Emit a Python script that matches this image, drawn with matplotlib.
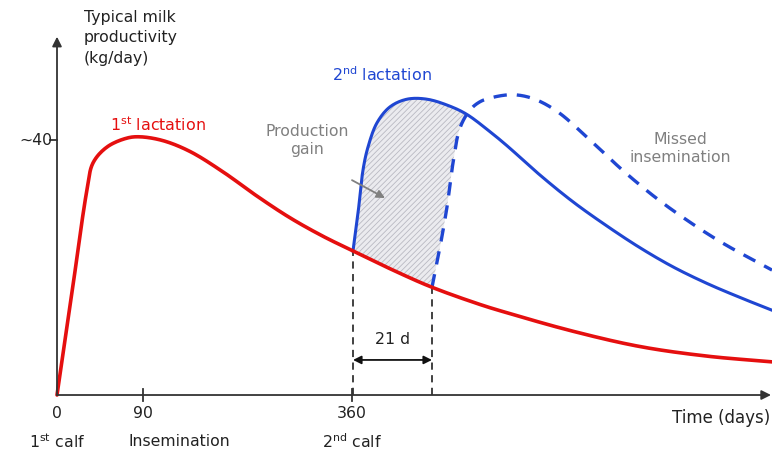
import numpy as np
import matplotlib
matplotlib.use("Agg")
import matplotlib.pyplot as plt

# ---------------- data (schematic units: x = position along time axis, y = kg/day) -------------
red_x = [0, 15, 30, 36, 50, 70, 83, 106, 133, 166, 200, 233, 266, 296, 340, 375, 423, 450, 516, 583, 650, 715]
red_y = [0, 16.1, 32.2, 36.4, 38.9, 40.3, 40.5, 39.9, 38.2, 35.0, 31.2, 27.8, 24.9, 22.6, 19.3, 16.9, 14.2, 12.9, 10.0, 7.6, 6.1, 5.2]

blue_x = [296, 301, 306, 311, 320, 333, 350, 370, 393, 410, 433, 450, 483, 516, 550, 583, 616, 650, 683, 715]
blue_y = [22.6, 28.5, 35.3, 38.9, 42.7, 45.2, 46.4, 46.4, 45.3, 44.0, 41.3, 39.1, 34.5, 30.3, 26.5, 23.1, 20.1, 17.5, 15.3, 13.3]

dash_x = [375, 383, 390, 396, 403, 413, 423, 436, 456, 476, 500, 533, 566, 600, 633, 666, 715]
dash_y = [16.9, 23.2, 29.5, 36.4, 41.9, 44.7, 46.0, 46.7, 47.1, 46.5, 44.5, 40.0, 35.2, 30.8, 27.1, 23.8, 19.6]

tick_pos = [0, 86, 295]
tick_labels = ["0", "90", "360"]
event_labels = ["1$^{\\rm st}$ calf", "Insemination", "2$^{\\rm nd}$ calf"]
y_tick_value = 40
y_tick_label = "~40"
insem_x = 296      # 2nd calf
insem_x2 = 375     # 21 d later
gap_label = "21 d"

RED = "#e50f0f"
BLUE = "#1f46d2"
GRAY = "#808080"
DARK = "#333333"
TXT = "#222222"
FS = 11.3

plt.rcParams['font.family'] = ['DejaVu Sans']
plt.rcParams['mathtext.fontset'] = 'custom'
plt.rcParams['mathtext.rm'] = 'DejaVu Sans'
plt.rcParams['hatch.linewidth'] = 0.6

fig = plt.figure(figsize=(7.72, 4.55), dpi=100)
ax = fig.add_axes([0, 0, 1, 1])
ax.set_xlim(-57, 715)
ax.set_ylim(-9.41, 61.96)
ax.axis('off')


def smooth(xs, ys, n=16, alpha=0.5):
    """Centripetal Catmull-Rom rendering of the read points, done in display space (drawing only)."""
    P = ax.transData.transform(np.column_stack([xs, ys]).astype(float))
    P = np.vstack([2 * P[0] - P[1], P, 2 * P[-1] - P[-2]])
    out = []
    for i in range(1, len(P) - 2):
        p0, p1, p2, p3 = P[i - 1], P[i], P[i + 1], P[i + 2]
        t0 = 0.0
        t1 = t0 + max(np.linalg.norm(p1 - p0), 1e-6) ** alpha
        t2 = t1 + max(np.linalg.norm(p2 - p1), 1e-6) ** alpha
        t3 = t2 + max(np.linalg.norm(p3 - p2), 1e-6) ** alpha
        t = np.linspace(t1, t2, n, endpoint=False)[:, None]
        a1 = (t1 - t) / (t1 - t0) * p0 + (t - t0) / (t1 - t0) * p1
        a2 = (t2 - t) / (t2 - t1) * p1 + (t - t1) / (t2 - t1) * p2
        a3 = (t3 - t) / (t3 - t2) * p2 + (t - t2) / (t3 - t2) * p3
        b1 = (t2 - t) / (t2 - t0) * a1 + (t - t0) / (t2 - t0) * a2
        b2 = (t3 - t) / (t3 - t1) * a2 + (t - t1) / (t3 - t1) * a3
        out.append((t2 - t) / (t2 - t1) * b1 + (t - t1) / (t2 - t1) * b2)
    out.append(P[-2][None, :])
    o = ax.transData.inverted().transform(np.vstack(out))
    return o[:, 0], o[:, 1]


rsx, rsy = smooth(red_x, red_y)
bsx, bsy = smooth(blue_x, blue_y)
dsx, dsy = smooth(dash_x, dash_y)

# hatched production gain region
m1 = bsx <= 410
m2 = dsx <= 410
m3 = (rsx >= insem_x) & (rsx <= insem_x2)
poly_x = np.concatenate([bsx[m1], dsx[m2][::-1], rsx[m3][::-1]])
poly_y = np.concatenate([bsy[m1], dsy[m2][::-1], rsy[m3][::-1]])
ax.fill(poly_x, poly_y, facecolor="#ebebef", edgecolor="#b9b9c2", hatch="//////", linewidth=0, zorder=1)

# vertical dashed guides
ax.plot([insem_x, insem_x], [0, np.interp(insem_x, rsx, rsy)], color=DARK, lw=1.3, dashes=(4, 3), zorder=2)
ax.plot([insem_x2, insem_x2], [0, np.interp(insem_x2, rsx, rsy)], color=DARK, lw=1.3, dashes=(4, 3), zorder=2)

# curves
ax.plot(rsx, rsy, color=RED, lw=2.6, solid_capstyle='round', solid_joinstyle='round', zorder=4)
ax.plot(bsx, bsy, color=BLUE, lw=2.2, solid_joinstyle='round', zorder=3)
ax.plot(dsx, dsy, color=BLUE, lw=2.4, dashes=(4, 3), zorder=3)

# axes with arrows
ax.annotate("", xy=(0, 56.2), xytext=(0, 0),
            arrowprops=dict(arrowstyle="-|>", color=DARK, lw=1.3, mutation_scale=14, shrinkA=0, shrinkB=0), zorder=5)
ax.annotate("", xy=(714, 0), xytext=(0, 0),
            arrowprops=dict(arrowstyle="-|>", color=DARK, lw=1.3, mutation_scale=14, shrinkA=0, shrinkB=0), zorder=5)
ax.plot([-7, 0], [y_tick_value, y_tick_value], color=DARK, lw=1.3)
ax.text(-21, y_tick_value, y_tick_label, ha='center', va='center', fontsize=FS, color=TXT)
for p in tick_pos[1:]:
    ax.plot([p, p], [-0.9, 0.9], color=DARK, lw=1.3)

for p, lab in zip(tick_pos, tick_labels):
    ax.text(p, -2.9, lab, ha='center', va='center', fontsize=FS, color=TXT)
ax.text(tick_pos[0], -7.3, event_labels[0], ha='center', va='center', fontsize=FS, color=TXT)
ax.text(tick_pos[1] - 15, -7.3, event_labels[1], ha='left', va='center', fontsize=FS, color=TXT)
ax.text(tick_pos[2], -7.3, event_labels[2], ha='center', va='center', fontsize=FS, color=TXT)
ax.text(713, -3.6, "Time (days)", ha='right', va='center', fontsize=12, color=TXT)

ax.text(27, 60.4, "Typical milk\nproductivity\n(kg/day)", ha='left', va='top', fontsize=FS,
        color=TXT, linespacing=1.45)

# 21 d arrow
ax.annotate("", xy=(insem_x2, 5.5), xytext=(insem_x, 5.5),
            arrowprops=dict(arrowstyle="<|-|>", color='#111111', lw=1.3, mutation_scale=12, shrinkA=0, shrinkB=0))
ax.text((insem_x + insem_x2) / 2, 8.7, gap_label, ha='center', va='center', fontsize=FS, color=TXT)

# labels
ax.text(101, 42.4, "1$^{\\rm st}$ lactation", ha='center', va='center', fontsize=11.4, color=RED)
ax.text(325, 50.2, "2$^{\\rm nd}$ lactation", ha='center', va='center', fontsize=11.4, color=BLUE)
ax.text(250, 40.0, "Production\ngain", ha='center', va='center', fontsize=FS, color=GRAY, linespacing=1.25)
ax.text(623, 38.7, "Missed\ninsemination", ha='center', va='center', fontsize=FS, color=GRAY, linespacing=1.25)
ax.annotate("", xy=(328, 30.9), xytext=(295, 33.7),
            arrowprops=dict(arrowstyle="-|>", color=GRAY, lw=1.3, mutation_scale=12, shrinkA=0, shrinkB=0))

fig.savefig("out.png", dpi=100)
